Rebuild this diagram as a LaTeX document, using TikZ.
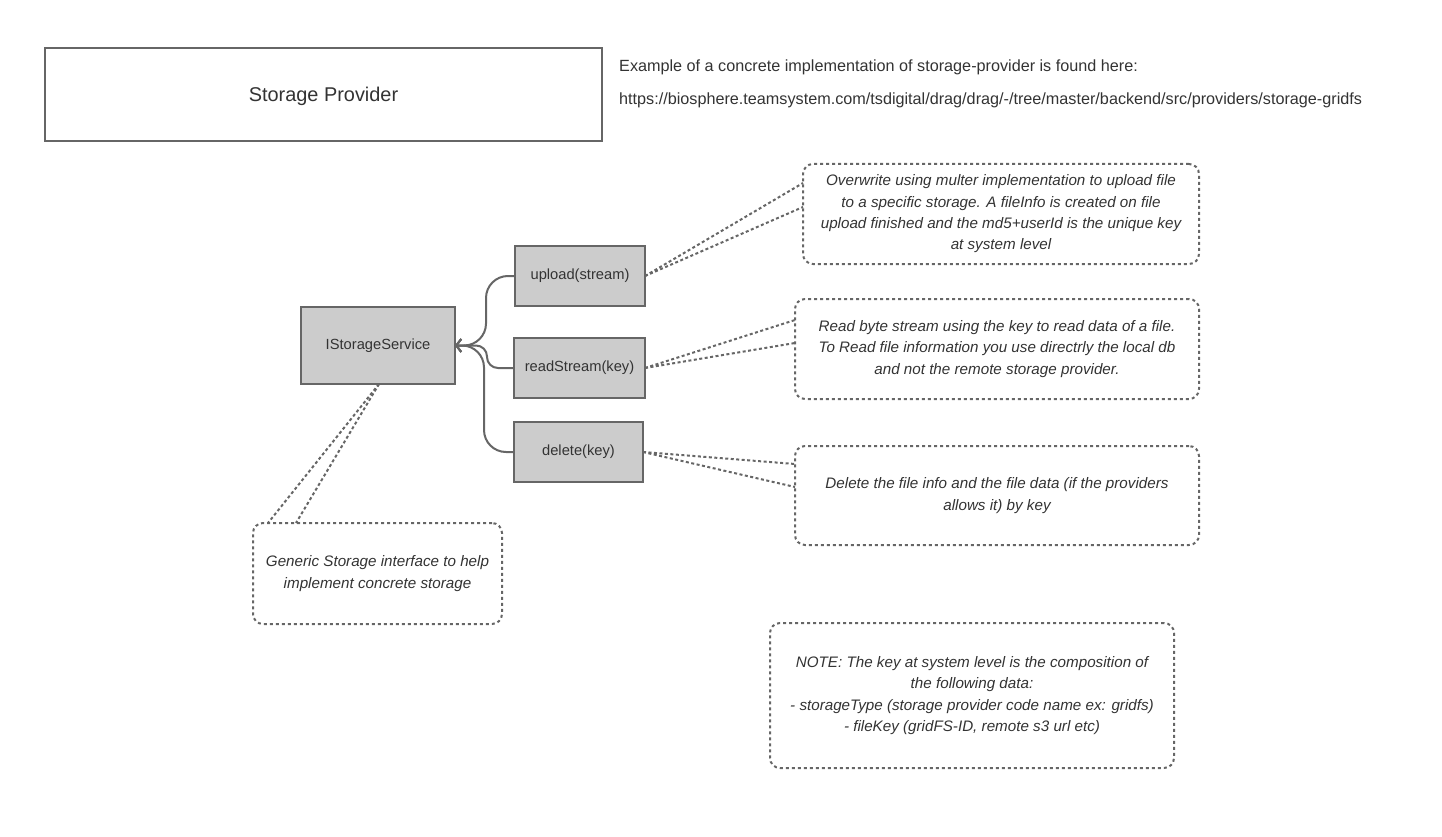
\documentclass[tikz,border=0pt]{standalone}
\usepackage{fontspec}
\setmainfont{Liberation Sans}
\usetikzlibrary{arrows.meta,calc}
\definecolor{edge}{HTML}{666666}
\definecolor{boxfill}{HTML}{CCCCCC}
\definecolor{txt}{HTML}{333333}
\begin{document}
\begin{tikzpicture}[x=1pt,y=-1pt,
  method/.style={draw=edge, fill=boxfill, line width=2pt, font=\fontsize{14.7}{17}\selectfont, text=txt, inner sep=0pt, outer sep=0pt},
  note/.style={draw=edge, line width=2pt, dash pattern=on 3pt off 3pt, rounded corners=10pt, align=center, font=\fontsize{15.2}{21.3}\selectfont\itshape, text=txt, inner sep=0pt, outer sep=0pt},
  callout/.style={draw=edge, line width=2pt, dash pattern=on 3pt off 2.5pt},
  link/.style={draw=edge, line width=2pt, -{Straight Barb[length=5pt,width=13pt,line width=2pt]}},
  plain/.style={anchor=west, font=\fontsize{16.2}{19}\selectfont, text=txt, inner sep=0pt}
]
\useasboundingbox (0,0) rectangle (1442,837);

\node[draw=edge, line width=2pt, minimum width=557pt, minimum height=93pt, font=\fontsize{19.9}{22}\selectfont, text=txt, inner sep=0pt, text depth=0pt] (sp) at (323.5,94.5) {Storage Provider};
\node[plain] (ex) at (619,67) {Example of a concrete implementation of storage-provider is found here:};
\node[plain] (url) at (619,100) {https://biosphere.teamsystem.com/tsdigital/drag/drag/-/tree/master/backend/src/providers/storage-gridfs};

\node[method, minimum width=154pt, minimum height=77pt] (is) at (378,345.5) {IStorageService};
\node[method, minimum width=130pt, minimum height=60pt] (up) at (580,276) {upload(stream)};
\node[method, minimum width=131pt, minimum height=60pt] (rs) at (579.5,368) {readStream(key)};
\node[method, minimum width=129pt, minimum height=60pt] (del) at (578.5,452) {delete(key)};

\node[note, minimum width=396pt, minimum height=100pt] (n1) at (1001,214) {Overwrite using multer implementation to upload file\\to a specific storage. A fileInfo is created on file\\upload finished and the md5+userId is the unique key\\at system level};
\node[note, minimum width=404pt, minimum height=100pt] (n2) at (997,349) {Read byte stream using the key to read data of a file.\\To Read file information you use directrly the local db\\and not the remote storage provider.};
\node[note, minimum width=404pt, minimum height=99pt] (n3) at (997,495.5) {Delete the file info and the file data (if the providers\\allows it) by key};
\node[note, minimum width=249pt, minimum height=101pt] (n4) at (377.5,573.5) {Generic Storage interface to help\\implement concrete storage};
\node[note, minimum width=404pt, minimum height=145pt] (n5) at (972,695.5) {NOTE: The key at system level is the composition of\\the following data:\\- storageType (storage provider code name ex: gridfs)\\- fileKey (gridFS-ID, remote s3 url etc)};

% callout legs
\coordinate (n1a) at ($(n1.north west)+(0,19)$);
\coordinate (n1b) at ($(n1.north west)+(0,43)$);
\coordinate (n2a) at ($(n2.north west)+(0,21)$);
\coordinate (n2b) at ($(n2.north west)+(0,44)$);
\coordinate (n3a) at ($(n3.north west)+(0,18)$);
\coordinate (n3b) at ($(n3.north west)+(0,41)$);
\coordinate (n4a) at ($(n4.north west)+(15,0)$);
\coordinate (n4b) at ($(n4.north west)+(43,0)$);
\coordinate (isb) at ($(is.south)+(1,0)$);
\draw[callout] (up.east) -- (n1a);
\draw[callout] (up.east) -- (n1b);
\draw[callout] (rs.east) -- (n2a);
\draw[callout] (rs.east) -- (n2b);
\draw[callout] (del.east) -- (n3a);
\draw[callout] (del.east) -- (n3b);
\draw[callout] (isb) -- (n4a);
\draw[callout] (isb) -- (n4b);

% links
\draw[link, rounded corners=22pt] (up.west) -- ++(-29,0) |- (is.east);
\draw[link, rounded corners=11pt] (rs.west) -- ++(-27,0) |- (is.east);
\draw[link, rounded corners=22pt] (del.west) -- ++(-30,0) |- (is.east);
\end{tikzpicture}
\end{document}
